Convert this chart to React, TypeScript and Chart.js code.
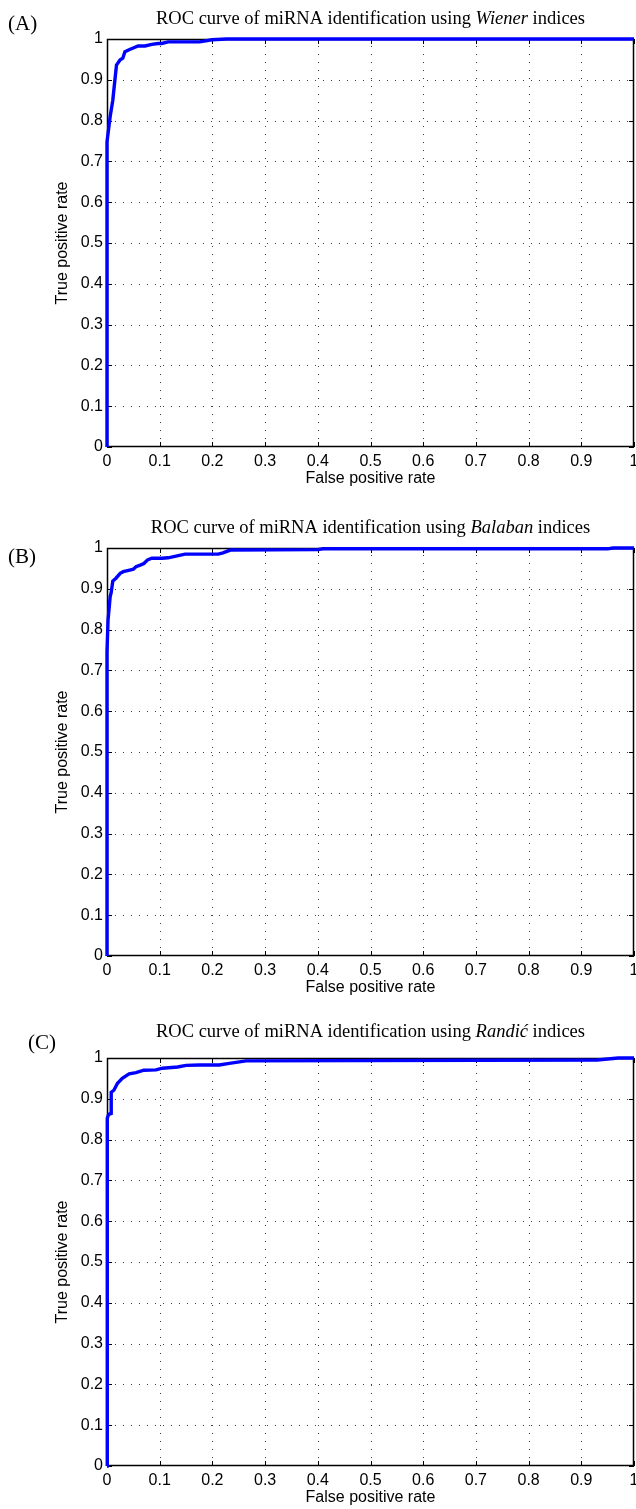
import React, { useEffect, useRef } from "react";
import { Chart, registerables } from "chart.js";

Chart.register(...registerables);

// ---------- data ----------
const tickValues = [0, 0.1, 0.2, 0.3, 0.4, 0.5, 0.6, 0.7, 0.8, 0.9, 1];
const tickLabels = ["0", "0.1", "0.2", "0.3", "0.4", "0.5", "0.6", "0.7", "0.8", "0.9", "1"];

const xAxisTitle = "False positive rate";
const yAxisTitle = "True positive rate";

const wienerFpr = [0, 0, 0.006, 0.011, 0.013, 0.018, 0.025, 0.03, 0.034, 0.044, 0.059, 0.072, 0.085, 0.097, 0.104, 0.116, 0.176, 0.199, 0.227, 1];
const wienerTpr = [0, 0.748, 0.81, 0.85, 0.875, 0.936, 0.949, 0.953, 0.969, 0.975, 0.983, 0.983, 0.987, 0.989, 0.989, 0.993, 0.993, 0.998, 1, 1];

const balabanFpr = [0, 0, 0.002, 0.006, 0.008, 0.011, 0.017, 0.025, 0.031, 0.043, 0.05, 0.055, 0.063, 0.07, 0.077, 0.085, 0.104, 0.116, 0.131, 0.148, 0.211, 0.22, 0.234, 0.4, 0.41, 0.95, 0.96, 1];
const balabanTpr = [0, 0.746, 0.824, 0.881, 0.891, 0.919, 0.926, 0.938, 0.942, 0.946, 0.948, 0.954, 0.958, 0.962, 0.971, 0.975, 0.975, 0.976, 0.98, 0.985, 0.985, 0.988, 0.995, 0.996, 0.998, 0.998, 1, 1];

const randicFpr = [0, 0, 0.001, 0.003, 0.008, 0.008, 0.013, 0.02, 0.029, 0.042, 0.055, 0.07, 0.093, 0.105, 0.134, 0.15, 0.175, 0.213, 0.232, 0.264, 0.93, 0.97, 1];
const randicTpr = [0, 0.77, 0.852, 0.862, 0.864, 0.916, 0.921, 0.938, 0.95, 0.961, 0.964, 0.97, 0.971, 0.975, 0.978, 0.982, 0.983, 0.983, 0.987, 0.993, 0.995, 1, 1];

const panelLetters = ["(A)", "(B)", "(C)"];
const titleLead = "ROC curve of miRNA identification using ";
const titleIndexNames = ["Wiener", "Balaban", "Randić"];
const titleTail = " indices";

// ---------- layout (pixels) ----------
const CANVAS_W = 636;
const CANVAS_H = 509;
const AREA_TOP = 39;
const AREA_BOTTOM = 447;
const AREA_LEFT = 107;
const AREA_RIGHT_PAD = 2;

type PanelSpec = {
  top: number;
  fpr: number[];
  tpr: number[];
  letter: string;
  indexName: string;
  titleY: number;
  letterX: number;
  letterY: number;
};

const panels: PanelSpec[] = [
  { top: 0, fpr: wienerFpr, tpr: wienerTpr, letter: panelLetters[0], indexName: titleIndexNames[0], titleY: 19, letterX: 8, letterY: 24 },
  { top: 509, fpr: balabanFpr, tpr: balabanTpr, letter: panelLetters[1], indexName: titleIndexNames[1], titleY: 19, letterX: 8, letterY: 48 },
  { top: 1019, fpr: randicFpr, tpr: randicTpr, letter: panelLetters[2], indexName: titleIndexNames[2], titleY: 13, letterX: 28, letterY: 24 },
];

function Panel({ spec }: { spec: PanelSpec }) {
  const ref = useRef<HTMLCanvasElement | null>(null);

  useEffect(() => {
    const canvas = ref.current;
    if (!canvas) return;

    const decor = {
      id: "decor",
      beforeDatasetsDraw(chart: any) {
        const { ctx, chartArea } = chart;
        const { left, top, right, bottom } = chartArea;
        const xs = chart.scales.x;
        const ys = chart.scales.y;
        ctx.save();
        // dotted grid
        ctx.strokeStyle = "rgba(0,0,0,0.75)";
        ctx.lineWidth = 1;
        ctx.setLineDash([1, 7]);
        tickValues.forEach((v) => {
          if (v === 0 || v === 1) return;
          const px = Math.round(xs.getPixelForValue(v)) + 0.5;
          ctx.beginPath();
          ctx.moveTo(px, bottom);
          ctx.lineTo(px, top);
          ctx.stroke();
          const py = Math.round(ys.getPixelForValue(v)) + 0.5;
          ctx.beginPath();
          ctx.moveTo(left, py);
          ctx.lineTo(right, py);
          ctx.stroke();
        });
        ctx.setLineDash([]);
        // tick marks (inward)
        ctx.strokeStyle = "#000";
        tickValues.forEach((v) => {
          const px = Math.round(xs.getPixelForValue(v)) + 0.5;
          ctx.beginPath();
          ctx.moveTo(px, bottom);
          ctx.lineTo(px, bottom - 5);
          ctx.moveTo(px, top);
          ctx.lineTo(px, top + 5);
          ctx.stroke();
          const py = Math.round(ys.getPixelForValue(v)) + 0.5;
          ctx.beginPath();
          ctx.moveTo(left, py);
          ctx.lineTo(left + 5, py);
          ctx.moveTo(right, py);
          ctx.lineTo(right - 5, py);
          ctx.stroke();
        });
        // frame
        ctx.lineWidth = 1.5;
        ctx.strokeRect(left + 0.5, top + 0.5, right - left - 1, bottom - top - 1);
        ctx.restore();
      },
      afterDraw(chart: any) {
        const { ctx, chartArea } = chart;
        const cx = (chartArea.left + chartArea.right) / 2;
        ctx.save();
        ctx.fillStyle = "#000";
        ctx.textBaseline = "middle";
        const normal = '18.5px "Liberation Serif"';
        const italic = 'italic 18.5px "Liberation Serif"';
        const parts = [
          { t: titleLead, f: normal },
          { t: spec.indexName, f: italic },
          { t: titleTail, f: normal },
        ];
        let total = 0;
        parts.forEach((p) => {
          ctx.font = p.f;
          total += ctx.measureText(p.t).width;
        });
        let x = cx - total / 2;
        ctx.textAlign = "left";
        parts.forEach((p) => {
          ctx.font = p.f;
          ctx.fillText(p.t, x, spec.titleY);
          x += ctx.measureText(p.t).width;
        });
        ctx.font = '21px "Liberation Serif"';
        ctx.fillText(spec.letter, spec.letterX, spec.letterY);
        ctx.restore();
      },
    };

    const tickFont = { family: '"Liberation Sans"', size: 16 };

    const chart = new Chart(canvas, {
      type: "line",
      data: {
        datasets: [
          {
            data: spec.fpr.map((f, i) => ({ x: f, y: spec.tpr[i] })),
            borderColor: "#0000ff",
            borderWidth: 3.4,
            pointRadius: 0,
            fill: false,
            tension: 0,
            clip: false as any,
          },
        ],
      },
      options: {
        responsive: false,
        animation: false,
        devicePixelRatio: 1,
        layout: {
          autoPadding: false,
          padding: { top: AREA_TOP, left: 0, right: AREA_RIGHT_PAD, bottom: 0 },
        },
        plugins: {
          legend: { display: false },
          tooltip: { enabled: false },
          title: { display: false },
        },
        scales: {
          x: {
            type: "linear",
            min: 0,
            max: 1,
            grid: { display: false, drawTicks: false },
            border: { display: false },
            afterBuildTicks: (scale: any) => {
              scale.ticks = tickValues.map((v) => ({ value: v }));
            },
            afterFit: (scale: any) => {
              scale.height = CANVAS_H - AREA_BOTTOM;
              scale.paddingLeft = 0;
              scale.paddingRight = 0;
              scale.paddingTop = 0;
              scale.paddingBottom = 0;
            },
            ticks: {
              autoSkip: false,
              maxRotation: 0,
              padding: 5,
              color: "#000",
              font: tickFont,
              callback: (_v: any, i: number) => tickLabels[i],
            },
            title: {
              display: true,
              text: xAxisTitle,
              color: "#000",
              font: tickFont,
              padding: { top: 0, bottom: 21 },
            },
          },
          y: {
            type: "linear",
            min: 0,
            max: 1,
            grid: { display: false, drawTicks: false },
            border: { display: false },
            afterBuildTicks: (scale: any) => {
              scale.ticks = tickValues.map((v) => ({ value: v }));
            },
            afterFit: (scale: any) => {
              scale.width = AREA_LEFT;
              scale.paddingLeft = 0;
              scale.paddingRight = 0;
              scale.paddingTop = 0;
              scale.paddingBottom = 0;
            },
            ticks: {
              autoSkip: false,
              padding: 4,
              color: "#000",
              font: tickFont,
              callback: (_v: any, i: number) => tickLabels[i],
            },
            title: {
              display: true,
              text: yAxisTitle,
              color: "#000",
              font: tickFont,
              padding: { top: 53, bottom: 0 },
            },
          },
        },
      },
      plugins: [decor],
    } as any);

    return () => chart.destroy();
  }, [spec]);

  return (
    <canvas
      ref={ref}
      width={CANVAS_W}
      height={CANVAS_H}
      style={{ position: "absolute", left: 0, top: spec.top, width: CANVAS_W, height: CANVAS_H, display: "block" }}
    />
  );
}

export default function App() {
  return (
    <div style={{ position: "absolute", left: 0, top: 0, width: 636, height: 1509, background: "#fff", overflow: "hidden" }}>
      {panels.map((p, i) => (
        <Panel key={i} spec={p} />
      ))}
    </div>
  );
}
